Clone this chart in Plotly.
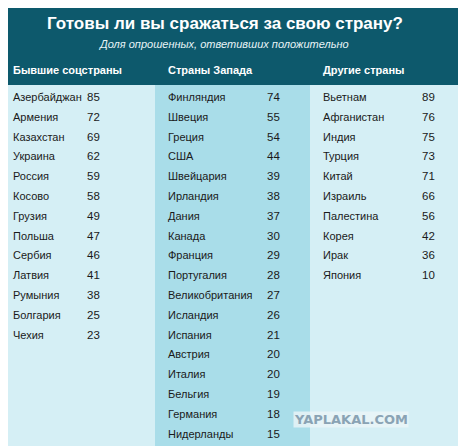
import plotly.graph_objects as go

title = "Готовы ли вы сражаться за свою страну?"
subtitle = "Доля опрошенных, ответивших положительно"
group_titles = ["Бывшие соцстраны", "Страны Запада", "Другие страны"]

ex_soc = ["Азербайджан", "Армения", "Казахстан", "Украина", "Россия", "Косово", "Грузия",
          "Польша", "Сербия", "Латвия", "Румыния", "Болгария", "Чехия"]
ex_soc_vals = [85, 72, 69, 62, 59, 58, 49, 47, 46, 41, 38, 25, 23]

west = ["Финляндия", "Швеция", "Греция", "США", "Швейцария", "Ирландия", "Дания", "Канада",
        "Франция", "Португалия", "Великобритания", "Исландия", "Испания", "Австрия",
        "Италия", "Бельгия", "Германия", "Нидерланды"]
west_vals = [74, 55, 54, 44, 39, 38, 37, 30, 29, 28, 27, 26, 21, 20, 20, 19, 18, 15]

other = ["Вьетнам", "Афганистан", "Индия", "Турция", "Китай", "Израиль", "Палестина",
         "Корея", "Ирак", "Япония"]
other_vals = [89, 76, 75, 73, 71, 66, 56, 42, 36, 10]

groups = [(ex_soc, ex_soc_vals), (west, west_vals), (other, other_vals)]
col_left = [0, 155, 310]
col_bg = ["#d5eff5", "#a9dde9", "#d5eff5"]
name_x = [12, 167, 322]
val_x = [93, 273, 428]
row0, step = 97, 19.8
font = "Liberation Sans, Arial, sans-serif"
off = 8  # page body margin

fig = go.Figure()
shapes = []
for i in range(3):
    shapes.append(dict(type="rect", x0=col_left[i], x1=col_left[i] + 156,
                       y0=85, y1=446, fillcolor=col_bg[i], line_width=0, layer="below"))
shapes.append(dict(type="rect", x0=0, x1=466, y0=0, y1=85, fillcolor="#0d596c",
                   line_width=0, layer="below"))

annotations = [
    dict(x=225, y=23, text="<b>" + title + "</b>", font=dict(family=font, size=17, color="white")),
    dict(x=223, y=44, text="<i>" + subtitle + "</i>", font=dict(family=font, size=11, color="#e8f4f7")),
    dict(x=293, y=419, text="<b>YAPLAKAL.COM</b>", xanchor="left",
         font=dict(family="DejaVu Sans, sans-serif", size=13, color="#8aa3b4"),
         bgcolor="rgba(235,245,248,0.8)"),
]
for i, g in enumerate(group_titles):
    annotations.append(dict(x=name_x[i], y=70, text="<b>" + g + "</b>", xanchor="left",
                            font=dict(family=font, size=11, color="white")))
for i, (names, vals) in enumerate(groups):
    for k, (n, v) in enumerate(zip(names, vals)):
        y = row0 + k * step
        annotations.append(dict(x=name_x[i], y=y, text=n, xanchor="left",
                                font=dict(family=font, size=11, color="#1a1a1a")))
        annotations.append(dict(x=val_x[i], y=y, text=str(v), xanchor="center",
                                font=dict(family=font, size=11.5, color="#1a1a1a")))
for a in annotations:
    a.setdefault("xanchor", "center")
    a.update(xref="x", yref="y", showarrow=False, yanchor="middle", borderpad=0)

fig.update_layout(
    width=466 - off, height=446 - off, margin=dict(l=0, r=0, t=0, b=0),
    showlegend=False, plot_bgcolor="white", paper_bgcolor="white",
    xaxis=dict(range=[off, 466], visible=False, fixedrange=True),
    yaxis=dict(range=[446, off], visible=False, fixedrange=True),
    shapes=shapes, annotations=annotations,
)
fig.write_html("out.html", config={"displayModeBar": False})
